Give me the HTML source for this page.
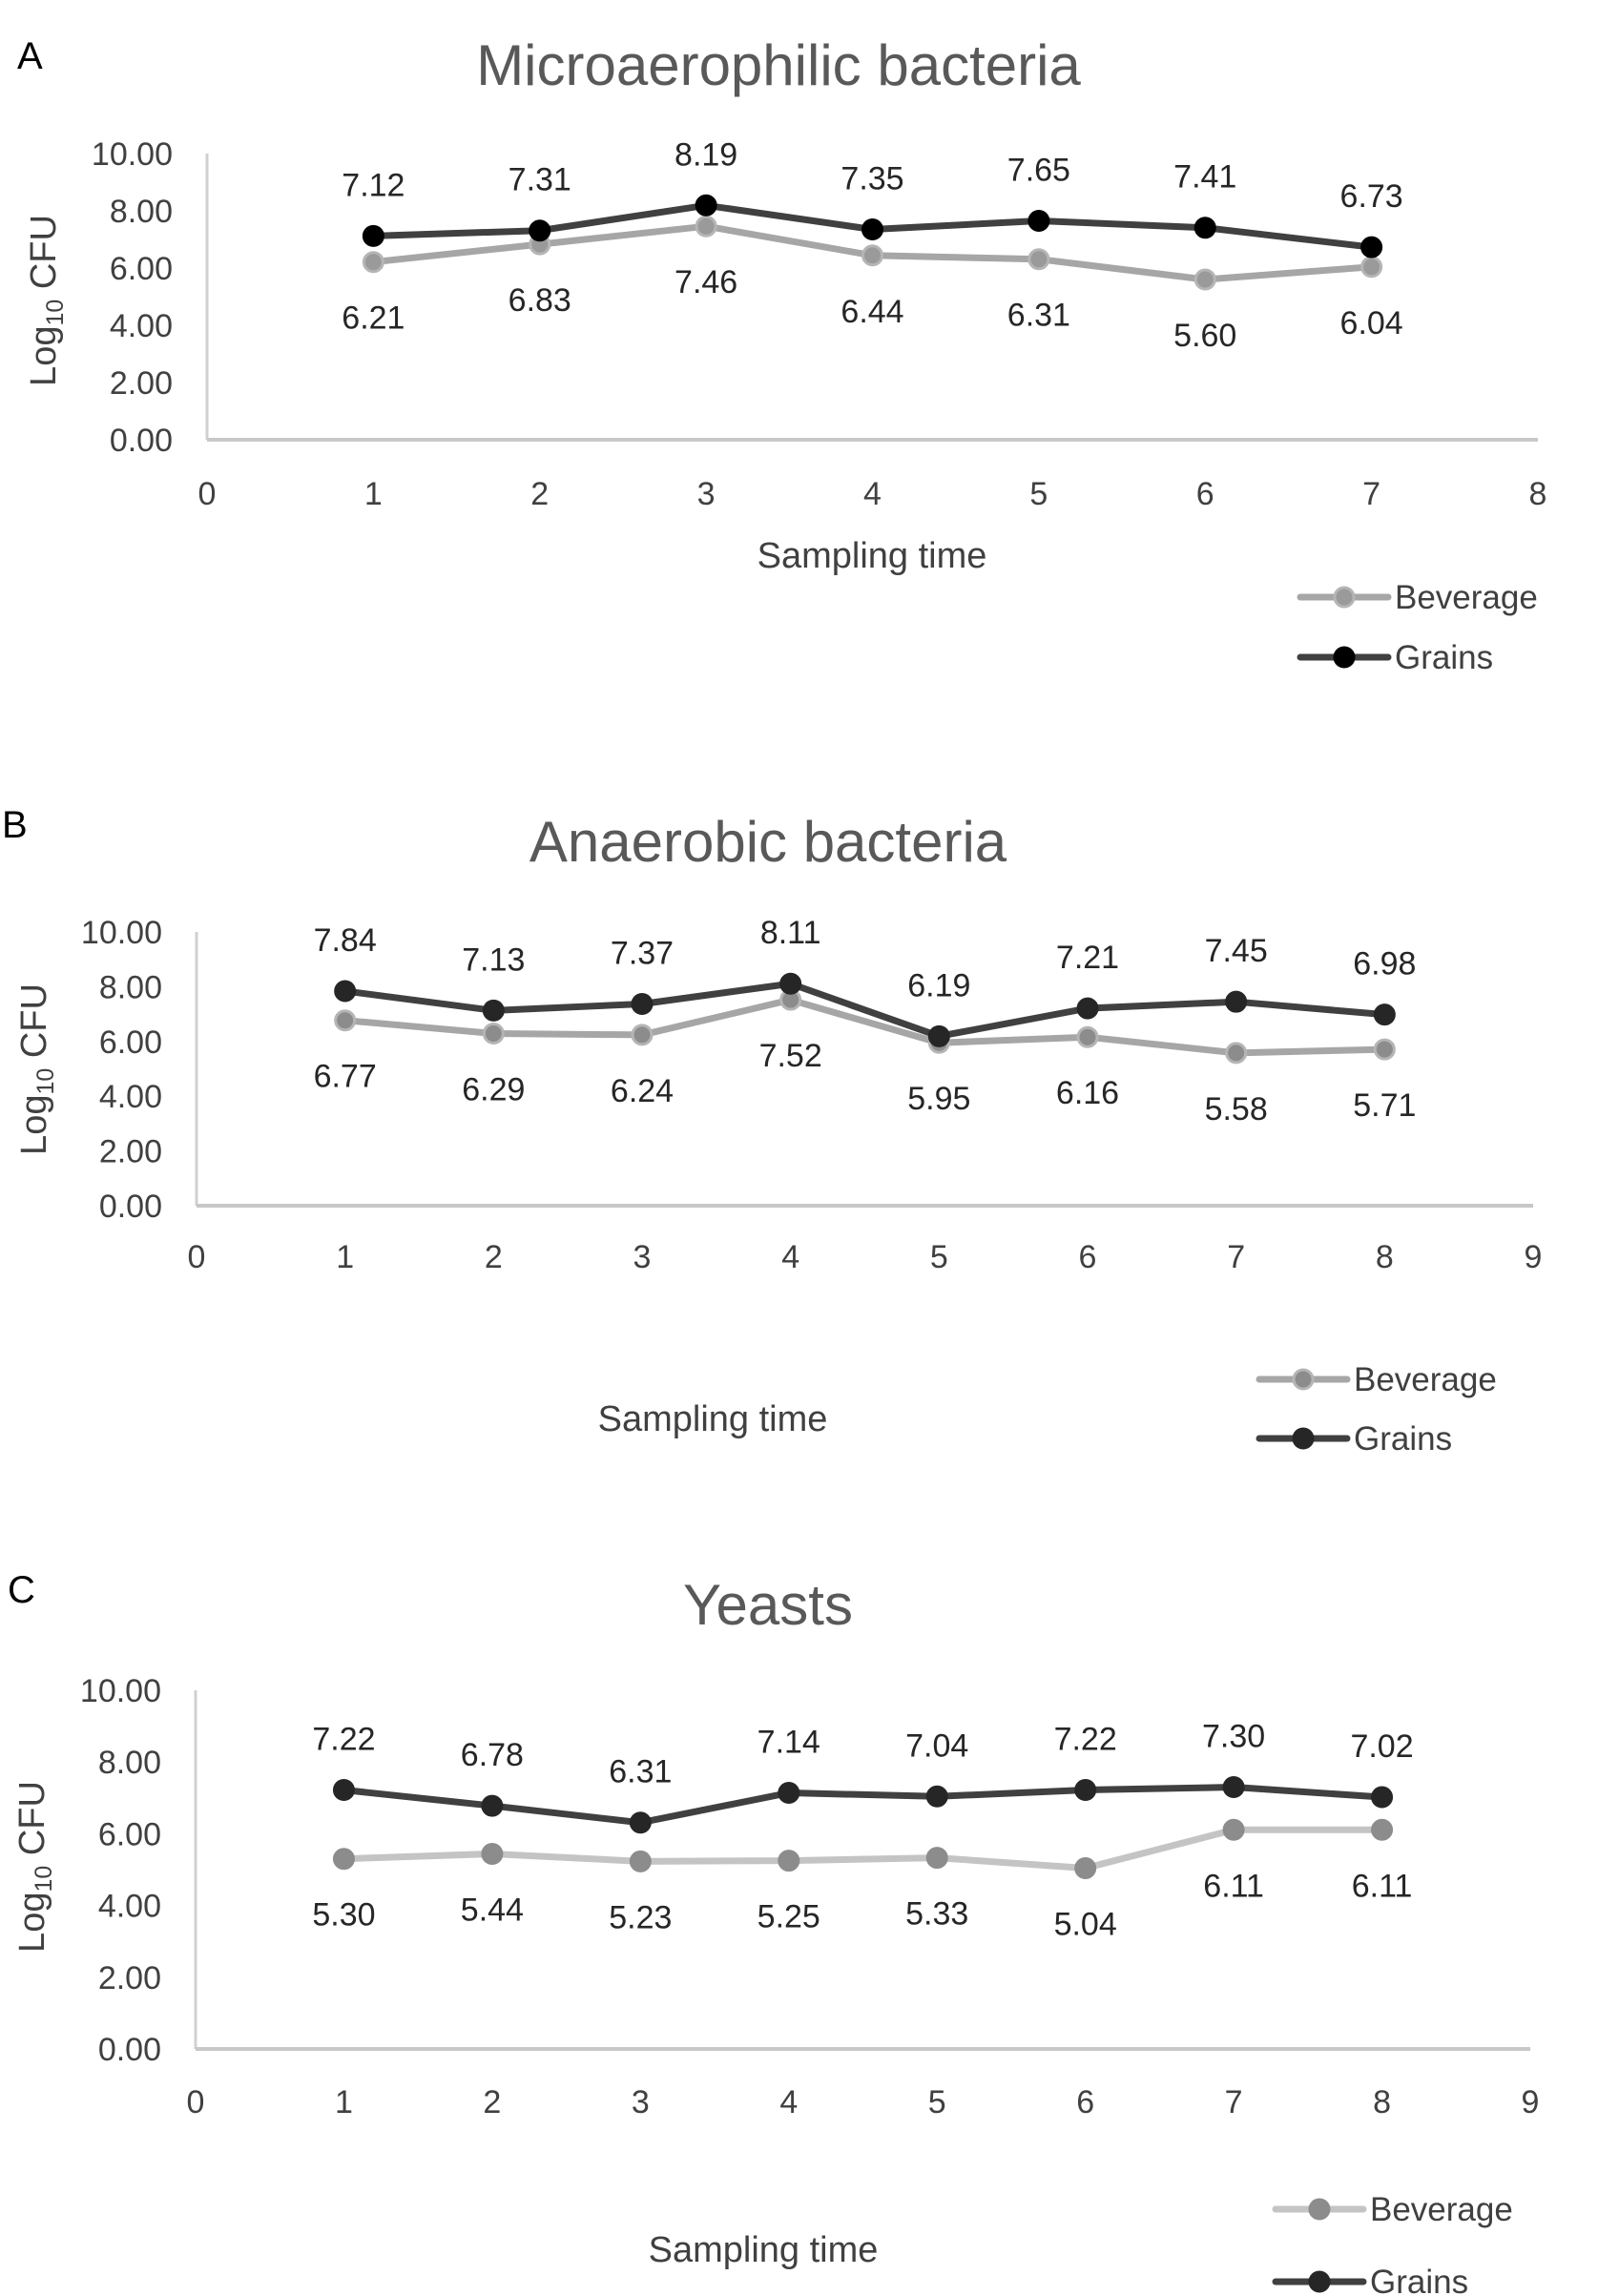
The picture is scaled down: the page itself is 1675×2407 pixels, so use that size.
<!DOCTYPE html>
<html><head><meta charset="utf-8">
<style>
html,body{margin:0;padding:0;background:#fff;}
svg{display:block;font-family:"Liberation Sans",sans-serif;}
</style></head>
<body>
<svg id="fig" width="1675" height="2407" viewBox="0 0 1675 2407" xmlns="http://www.w3.org/2000/svg"></svg>
<script>
// Panel A data
const aCategories = [1,2,3,4,5,6,7];
const aBeverage = [6.21,6.83,7.46,6.44,6.31,5.60,6.04];
const aGrains = [7.12,7.31,8.19,7.35,7.65,7.41,6.73];
const aXTicks = [0,1,2,3,4,5,6,7,8];
// Panel B data
const bCategories = [1,2,3,4,5,6,7,8];
const bBeverage = [6.77,6.29,6.24,7.52,5.95,6.16,5.58,5.71];
const bGrains = [7.84,7.13,7.37,8.11,6.19,7.21,7.45,6.98];
const bXTicks = [0,1,2,3,4,5,6,7,8,9];
// Panel C data
const cCategories = [1,2,3,4,5,6,7,8];
const cBeverage = [5.30,5.44,5.23,5.25,5.33,5.04,6.11,6.11];
const cGrains = [7.22,6.78,6.31,7.14,7.04,7.22,7.30,7.02];
const cXTicks = [0,1,2,3,4,5,6,7,8,9];
const yTicks = [0,2,4,6,8,10];

const NS = "http://www.w3.org/2000/svg";
const svg = document.getElementById('fig');
function mk(tag, attrs, parent, text){
  const e = document.createElementNS(NS, tag);
  for (const k in attrs) e.setAttribute(k, attrs[k]);
  if (text !== undefined) e.textContent = text;
  (parent||svg).appendChild(e);
  return e;
}

function panel(p){
  const g = mk('g', {});
  
  
  const xmax = p.xticks[p.xticks.length-1];
  const xs = v => p.x0 + (v / xmax) * (p.x1 - p.x0);
  const ys = v => p.yb + (v / 10) * (p.yt - p.yb);

  const lab = mk('text', {x:p.lx, y:p.ly, 'font-size':40, fill:'#000'}, g, p.letter);
  
  

  const t = mk('text', {x:p.tx, y:p.ty, 'font-size':60, fill:'#595959', 'text-anchor':'middle'}, g, p.title);
  
  

  const ya = mk('line', {x1:p.x0, x2:p.x0, y1:p.yt, y2:p.yb, stroke:'#d0d0d0', 'stroke-width':3}, g);
  
  
  const xa = mk('line', {x1:p.x0, x2:p.x1, y1:p.yb, y2:p.yb, stroke:'#c8c8c8', 'stroke-width':4}, g);
  
  

  yTicks.forEach(v => {
    const e = mk('text', {x:p.x0-36, y:ys(v)+12, 'font-size':34, fill:'#404040', 'text-anchor':'end'}, g, v.toFixed(2));
    
    
  });
  p.xticks.forEach(v => {
    const e = mk('text', {x:xs(v), y:p.xty, 'font-size':34, fill:'#404040', 'text-anchor':'middle'}, g, String(v));
    
    
  });

  const yt = mk('text', {x:0, y:0, 'font-size':38, fill:'#404040', 'text-anchor':'middle', transform:`translate(${p.ytx},${p.yty}) rotate(-90)`}, g);
  
  
  mk('tspan', {}, yt, 'Log');
  mk('tspan', {'font-size':25, dy:8}, yt, '10');
  mk('tspan', {dy:-8}, yt, ' CFU');

  const xt = mk('text', {x:p.xtx, y:p.xtyy, 'font-size':38, fill:'#404040', 'text-anchor':'middle'}, g, 'Sampling time');
  
  

  const series = [
    {name:'beverage', vals:p.bev, line:p.bevLine, fill:p.bevFill, stroke:p.bevStroke, dy:58},
    {name:'grains', vals:p.gr, line:p.grLine, fill:p.grFill, stroke:p.grFill, dy:-54}
  ];
  series.forEach(s => {
    const pts = p.cats.map((c,i) => xs(c)+','+ys(s.vals[i])).join(' ');
    const pl = mk('polyline', {points:pts, fill:'none', stroke:s.line, 'stroke-width':7, 'stroke-linejoin':'round'}, g);
    
    
  });
  series.forEach(s => {
    p.cats.forEach((c,i) => {
      const m = mk('circle', {cx:xs(c), cy:ys(s.vals[i]), r:10, fill:s.fill, stroke:s.stroke, 'stroke-width':3}, g);
      
      
      const l = mk('text', {x:xs(c), y:ys(s.vals[i]) + s.dy + 12, 'font-size':34, fill:'#262626', 'text-anchor':'middle'}, g, s.vals[i].toFixed(2));
      
      
    });
  });

  [[p.bevLine, p.bevFill, p.bevStroke, 'Beverage', p.lg1y, 'legend-beverage'],
   [p.grLine, p.grFill, p.grFill, 'Grains', p.lg2y, 'legend-grains']].forEach(L => {
    const lg = mk('g', {}, g);
    
    
    mk('line', {x1:p.lgx, x2:p.lgx+92, y1:L[4], y2:L[4], stroke:L[0], 'stroke-width':7, 'stroke-linecap':'round'}, lg);
    mk('circle', {cx:p.lgx+46, cy:L[4], r:10, fill:L[1], stroke:L[2], 'stroke-width':3}, lg);
    mk('text', {x:p.lgx+99, y:L[4]+12, 'font-size':35, fill:'#404040'}, lg, L[3]);
  });
}

panel({id:'microaerophilic', letter:'A', lx:18, ly:72, title:'Microaerophilic bacteria', tx:816, ty:89,
  x0:217, x1:1612, yt:161, yb:461, xticks:aXTicks, xty:529, cats:aCategories, bev:aBeverage, gr:aGrains,
  ytx:58, yty:315, xtx:914, xtyy:595,
  bevLine:'#a6a6a6', bevFill:'#9a9a9a', bevStroke:'#b5b5b5', grLine:'#404040', grFill:'#000',
  lgx:1363, lg1y:626, lg2y:689});

panel({id:'anaerobic', letter:'B', lx:2, ly:878, title:'Anaerobic bacteria', tx:805, ty:903,
  x0:206, x1:1607, yt:977, yb:1264, xticks:bXTicks, xty:1329, cats:bCategories, bev:bBeverage, gr:bGrains,
  ytx:48, yty:1121, xtx:747, xtyy:1500,
  bevLine:'#a6a6a6', bevFill:'#8c8c8c', bevStroke:'#b5b5b5', grLine:'#404040', grFill:'#262626',
  lgx:1320, lg1y:1446, lg2y:1508});

panel({id:'yeasts', letter:'C', lx:8, ly:1680, title:'Yeasts', tx:805, ty:1703,
  x0:205, x1:1604, yt:1772, yb:2148, xticks:cXTicks, xty:2215, cats:cCategories, bev:cBeverage, gr:cGrains,
  ytx:46, yty:1957, xtx:800, xtyy:2371,
  bevLine:'#c4c4c4', bevFill:'#8c8c8c', bevStroke:'#8c8c8c', grLine:'#404040', grFill:'#262626',
  lgx:1337, lg1y:2316, lg2y:2392});
</script>
</body></html>
